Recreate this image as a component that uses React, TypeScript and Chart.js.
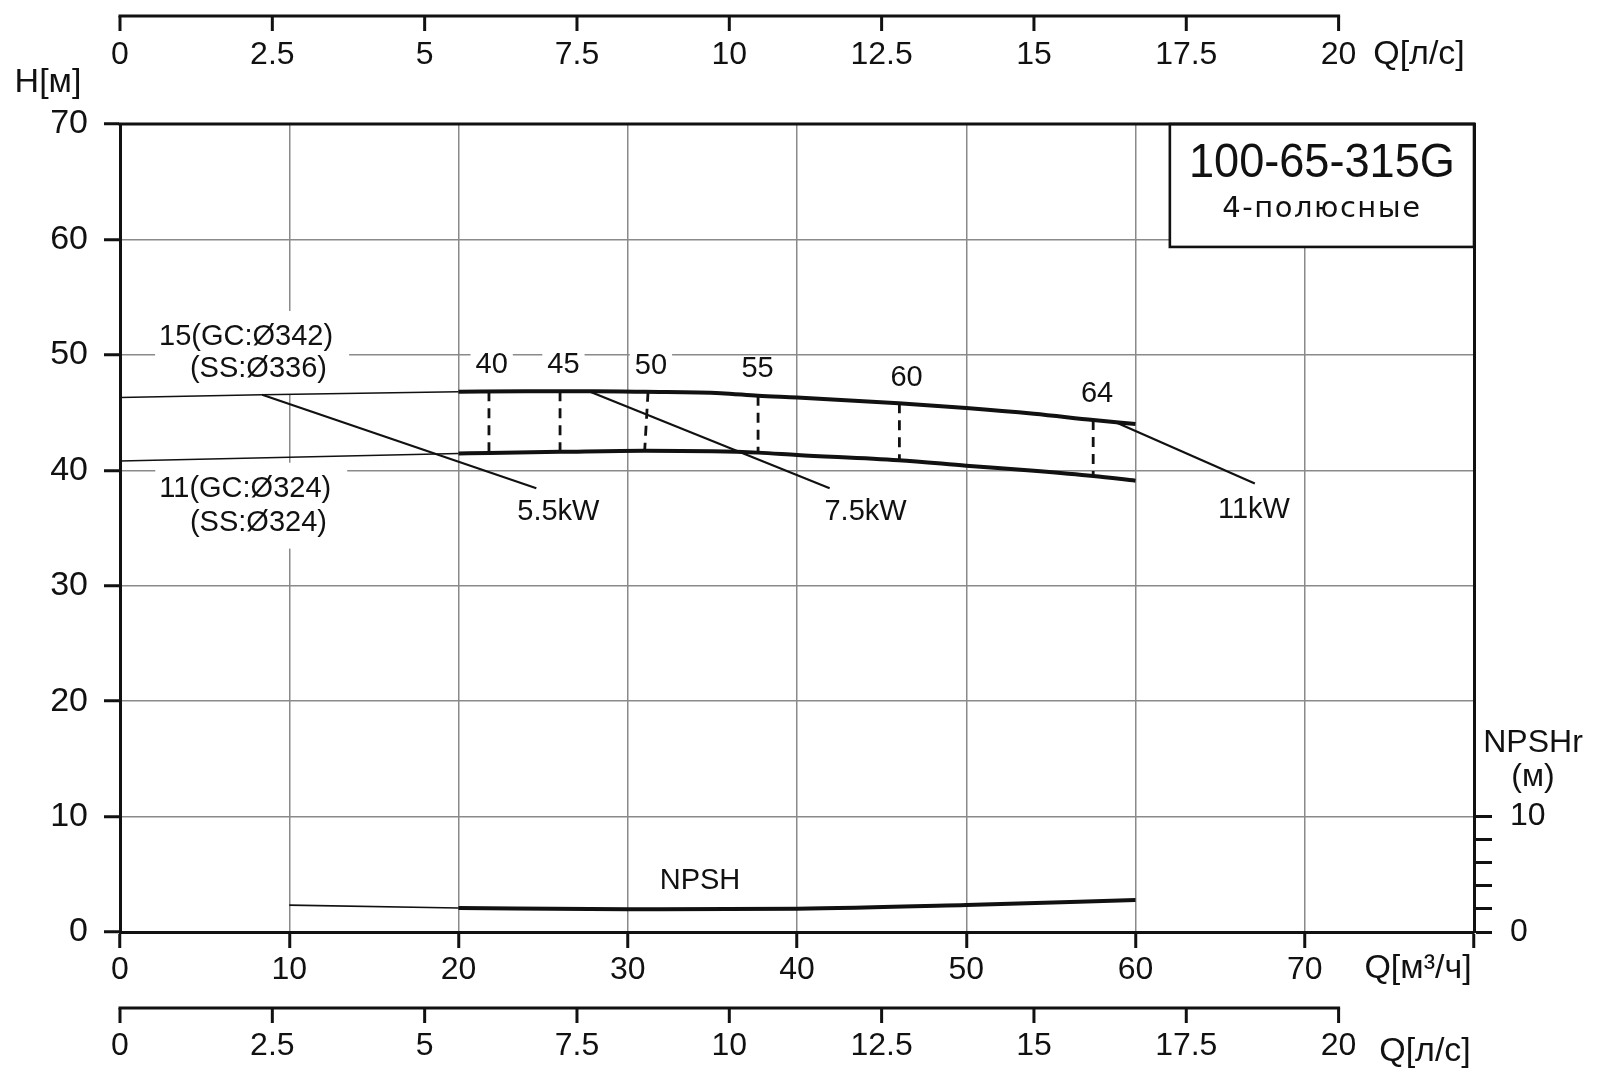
import React, { useEffect, useRef } from 'react';
import { Chart, registerables } from 'chart.js';

Chart.register(...registerables);

// ---------- axes ----------
const Q_TICKS_M3H = [0, 10, 20, 30, 40, 50, 60, 70, 80];
const Q_TICKS_LS = [0, 2.5, 5, 7.5, 10, 12.5, 15, 17.5, 20];
const H_TICKS = [0, 10, 20, 30, 40, 50, 60, 70];
const NPSH_TICKS = [0, 2, 4, 6, 8, 10];
const NPSH_LABELED = [0, 10];
const LS_TO_M3H = 3.6;

// ---------- head curves ----------
const H15_EXT_Q = [0, 8.4, 20];
const H15_EXT_H = [46.3, 46.55, 46.8];
const H15_Q = [20, 24, 28, 31, 35.5, 37.7, 40, 46, 50, 54, 57.5, 60];
const H15_H = [46.8, 46.85, 46.85, 46.8, 46.68, 46.45, 46.3, 45.8, 45.4, 44.9, 44.35, 44.0];

const H11_EXT_Q = [0, 20];
const H11_EXT_H = [40.8, 41.45];
const H11_Q = [20, 21.8, 26, 31, 35, 37.7, 40, 46, 50, 54, 57.5, 60];
const H11_H = [41.45, 41.5, 41.6, 41.7, 41.65, 41.53, 41.33, 40.87, 40.4, 39.95, 39.5, 39.1];

// ---------- NPSH ----------
const NPSH_EXT_Q = [10, 20];
const NPSH_EXT_H = [2.33, 2.08];
const NPSH_Q = [20, 30, 40, 50, 60];
const NPSH_H = [2.08, 1.97, 2.02, 2.34, 2.77];

// ---------- efficiency iso-lines ----------
const EFF_LABELS = ['40', '45', '50', '55', '60', '64'];
const EFF_Q_TOP = [21.8, 26.0, 31.2, 37.7, 46.05, 57.5];
const EFF_Q_BOT = [21.8, 26.0, 31.0, 37.7, 46.05, 57.5];
const EFF_H_TOP = [46.85, 46.85, 46.8, 46.45, 45.8, 44.35];
const EFF_H_BOT = [41.5, 41.6, 41.7, 41.53, 40.87, 39.5];
const EFF_LABEL_Q = [21.96, 26.2, 31.37, 37.67, 46.47, 57.73];
const EFF_LABEL_H = [49.1, 49.1, 49.05, 48.76, 48.03, 46.62];

// ---------- power leaders ----------
const POWER_LABELS = ['5.5kW', '7.5kW', '11kW'];
const POWER_Q_START = [8.4, 27.7, 58.86];
const POWER_H_START = [46.55, 46.85, 44.15];
const POWER_Q_END = [24.6, 41.93, 67.05];
const POWER_H_END = [38.45, 38.45, 38.85];
const POWER_LABEL_Q = [25.9, 44.05, 67.0];
const POWER_LABEL_H = [36.4, 36.37, 36.55];

// ---------- impeller labels ----------
const IMPELLER_LINES = [
  ['15(GC:Ø342)', '(SS:Ø336)'],
  ['11(GC:Ø324)', '(SS:Ø324)'],
];
const IMPELLER_Q = [
  [7.45, 8.18],
  [7.4, 8.18],
];
const IMPELLER_H = [
  [51.55, 48.8],
  [38.4, 35.47],
];

const NPSH_LABEL = 'NPSH';
const NPSH_LABEL_Q = 34.27;
const NPSH_LABEL_H = 4.38;

const TITLE = '100-65-315G';
const SUBTITLE = '4-полюсные';
const TITLE_BOX_Q = 62.03;
const TITLE_BOX_H = 59.35;

const FONT = '"Liberation Sans", Arial, sans-serif';
const INK = '#111111';
const GRID = '#8a8a8a';

const pts = (qs: number[], hs: number[]) => qs.map((q, i) => ({ x: q, y: hs[i] }));

function buildDatasets() {
  const ds: any[] = [];
  const base = { borderColor: INK, pointRadius: 0, fill: false, tension: 0 };
  ds.push({ ...base, data: pts(H15_EXT_Q, H15_EXT_H), borderWidth: 1.6 });
  ds.push({ ...base, data: pts(H15_Q, H15_H), borderWidth: 4, cubicInterpolationMode: 'monotone' });
  ds.push({ ...base, data: pts(H11_EXT_Q, H11_EXT_H), borderWidth: 1.6 });
  ds.push({ ...base, data: pts(H11_Q, H11_H), borderWidth: 4, cubicInterpolationMode: 'monotone' });
  ds.push({ ...base, data: pts(NPSH_EXT_Q, NPSH_EXT_H), borderWidth: 1.6, yAxisID: 'y2' });
  ds.push({ ...base, data: pts(NPSH_Q, NPSH_H), borderWidth: 4, cubicInterpolationMode: 'monotone', yAxisID: 'y2' });
  EFF_LABELS.forEach((_, i) => {
    ds.push({
      ...base,
      data: [
        { x: EFF_Q_TOP[i], y: EFF_H_TOP[i] },
        { x: EFF_Q_BOT[i], y: EFF_H_BOT[i] },
      ],
      borderWidth: 2.8,
      borderDash: [10, 7],
    });
  });
  POWER_LABELS.forEach((_, i) => {
    ds.push({
      ...base,
      data: [
        { x: POWER_Q_START[i], y: POWER_H_START[i] },
        { x: POWER_Q_END[i], y: POWER_H_END[i] },
      ],
      borderWidth: 2.2,
    });
  });
  return ds;
}

function boxedText(ctx: CanvasRenderingContext2D, text: string, cx: number, cy: number, size: number) {
  ctx.font = `${size}px ${FONT}`;
  const w = ctx.measureText(text).width;
  ctx.fillStyle = '#ffffff';
  ctx.fillRect(cx - w / 2 - 5, cy - size * 0.45, w + 10, size * 0.9);
  ctx.fillStyle = INK;
  ctx.textAlign = 'center';
  ctx.textBaseline = 'middle';
  ctx.fillText(text, cx, cy);
}

const overlay = {
  id: 'overlay',
  beforeDatasetsDraw(chart: any) {
    const { ctx, chartArea } = chart;
    const x = chart.scales.x;
    const y = chart.scales.y;
    const y2 = chart.scales.y2;
    ctx.save();

    // impeller labels with white block behind them
    ctx.font = `29px ${FONT}`;
    IMPELLER_LINES.forEach((lines, i) => {
      let l = Infinity, r = -Infinity, t = Infinity, b = -Infinity;
      lines.forEach((s, j) => {
        const w = ctx.measureText(s).width;
        const cx = x.getPixelForValue(IMPELLER_Q[i][j]);
        const cy = y.getPixelForValue(IMPELLER_H[i][j]);
        l = Math.min(l, cx - w / 2);
        r = Math.max(r, cx + w / 2);
        t = Math.min(t, cy - 14);
        b = Math.max(b, cy + 14);
      });
      ctx.fillStyle = '#ffffff';
      ctx.fillRect(l - 4, t - 12, r - l + 20, b - t + 24);
      ctx.fillStyle = INK;
      ctx.textAlign = 'center';
      ctx.textBaseline = 'middle';
      lines.forEach((s, j) => {
        ctx.fillText(s, x.getPixelForValue(IMPELLER_Q[i][j]), y.getPixelForValue(IMPELLER_H[i][j]));
      });
    });

    EFF_LABELS.forEach((s, i) => {
      boxedText(ctx, s, x.getPixelForValue(EFF_LABEL_Q[i]), y.getPixelForValue(EFF_LABEL_H[i]), 29);
    });
    POWER_LABELS.forEach((s, i) => {
      boxedText(ctx, s, x.getPixelForValue(POWER_LABEL_Q[i]), y.getPixelForValue(POWER_LABEL_H[i]), 29);
    });
    boxedText(ctx, NPSH_LABEL, x.getPixelForValue(NPSH_LABEL_Q), y2.getPixelForValue(NPSH_LABEL_H), 29);

    // title box
    const bl = x.getPixelForValue(TITLE_BOX_Q);
    const br = chartArea.right;
    const bt = chartArea.top;
    const bb = y.getPixelForValue(TITLE_BOX_H);
    ctx.fillStyle = '#ffffff';
    ctx.fillRect(bl, bt, br - bl, bb - bt);
    ctx.strokeStyle = INK;
    ctx.lineWidth = 2.6;
    ctx.strokeRect(bl, bt, br - bl, bb - bt);
    const bc = (bl + br) / 2;
    ctx.fillStyle = INK;
    ctx.textAlign = 'center';
    ctx.textBaseline = 'middle';
    ctx.font = `48px ${FONT}`;
    ctx.fillText(TITLE, bc, bt + 40, 266);
    ctx.font = `29px "DejaVu Sans", ${FONT}`;
    (ctx as any).letterSpacing = '1.5px';
    ctx.fillText(SUBTITLE, bc, bt + 85, 200);
    (ctx as any).letterSpacing = '0px';
    ctx.restore();
  },
  afterDatasetsDraw(chart: any) {
    const { ctx, chartArea } = chart;
    ctx.save();
    ctx.strokeStyle = INK;
    ctx.lineWidth = 3;
    ctx.beginPath();
    ctx.moveTo(chartArea.left - 1.5, chartArea.top);
    ctx.lineTo(chartArea.right + 1.5, chartArea.top);
    ctx.stroke();
    ctx.restore();
  },
  afterDraw(chart: any) {
    const { ctx } = chart;
    const x = chart.scales.x;
    ctx.save();
    ctx.strokeStyle = INK;
    ctx.fillStyle = INK;
    ctx.lineWidth = 3;
    const lsAxis = (lineY: number, tickEnd: number, labelY: number) => {
      const x0 = x.getPixelForValue(0);
      const x1 = x.getPixelForValue(Q_TICKS_LS[Q_TICKS_LS.length - 1] * LS_TO_M3H);
      ctx.beginPath();
      ctx.moveTo(x0 - 1.5, lineY);
      ctx.lineTo(x1 + 1.5, lineY);
      ctx.stroke();
      ctx.font = `32px ${FONT}`;
      ctx.textAlign = 'center';
      ctx.textBaseline = 'middle';
      Q_TICKS_LS.forEach((v) => {
        const px = x.getPixelForValue(v * LS_TO_M3H);
        ctx.beginPath();
        ctx.moveTo(px, lineY);
        ctx.lineTo(px, tickEnd);
        ctx.stroke();
        ctx.fillText(String(v), px, labelY);
      });
    };
    lsAxis(16, 31, 55);
    lsAxis(1008, 1023, 1046);

    ctx.textAlign = 'center';
    ctx.textBaseline = 'middle';
    ctx.font = `34px ${FONT}`;
    ctx.fillText('H[м]', 48, 83);
    ctx.fillText('Q[л/с]', 1419, 55);
    ctx.fillText('Q[м³/ч]', 1418, 969);
    ctx.fillText('Q[л/с]', 1425, 1052);
    ctx.font = `32px ${FONT}`;
    ctx.fillText('NPSHr', 1533, 743);
    ctx.fillText('(м)', 1533, 777);
    ctx.restore();
  },
};

export default function App() {
  const ref = useRef<HTMLCanvasElement | null>(null);
  useEffect(() => {
    const canvas = ref.current;
    if (!canvas) return;
    const tickFont = { family: FONT, size: 32 };
    const yTickFont = { family: FONT, size: 34 };
    const chart = new Chart(canvas, {
      type: 'line',
      data: { datasets: buildDatasets() },
      options: {
        responsive: false,
        animation: false,
        devicePixelRatio: 1,
        events: [],
        layout: { padding: { top: 124, left: 0, right: 0, bottom: 0 } },
        plugins: { legend: { display: false }, tooltip: { enabled: false }, title: { display: false } },
        scales: {
          x: {
            type: 'linear',
            position: 'bottom',
            min: 0,
            max: 80,
            afterBuildTicks: (s: any) => {
              s.ticks = Q_TICKS_M3H.map((v) => ({ value: v }));
            },
            afterFit: (s: any) => {
              s.height = 152;
            },
            ticks: {
              callback: (v: any) => (v === Q_TICKS_M3H[Q_TICKS_M3H.length - 1] ? '' : String(v)),
              font: tickFont,
              color: INK,
              padding: 3,
              maxRotation: 0,
              autoSkip: false,
            },
            grid: { color: GRID, lineWidth: 1.5, tickColor: INK, tickWidth: 3, tickLength: 16 },
            border: { color: INK, width: 3 },
          },
          y: {
            type: 'linear',
            position: 'left',
            min: 0,
            max: 70,
            afterBuildTicks: (s: any) => {
              s.ticks = H_TICKS.map((v) => ({ value: v }));
            },
            afterFit: (s: any) => {
              s.width = 120;
            },
            ticks: { font: yTickFont, color: INK, padding: 16 },
            grid: { color: GRID, lineWidth: 1.5, tickColor: INK, tickWidth: 3, tickLength: 16 },
            border: { color: INK, width: 3 },
          },
          y2: {
            type: 'linear',
            position: 'right',
            min: 0,
            max: 70,
            afterBuildTicks: (s: any) => {
              s.ticks = NPSH_TICKS.map((v) => ({ value: v }));
            },
            afterFit: (s: any) => {
              s.width = 126;
            },
            ticks: {
              font: tickFont,
              color: INK,
              padding: 18,
              callback: (v: any) => (NPSH_LABELED.includes(v) ? String(v) : ''),
            },
            grid: { drawOnChartArea: false, tickColor: INK, tickWidth: 3, tickLength: 18 },
            border: { color: INK, width: 3 },
          },
        },
      } as any,
      plugins: [overlay as any],
    });
    return () => chart.destroy();
  }, []);
  return (
    <div style={{ position: 'absolute', left: 0, top: 0, width: 1600, height: 1084, background: '#fff' }}>
      <canvas ref={ref} width={1600} height={1084} style={{ display: 'block', width: 1600, height: 1084 }} />
    </div>
  );
}
